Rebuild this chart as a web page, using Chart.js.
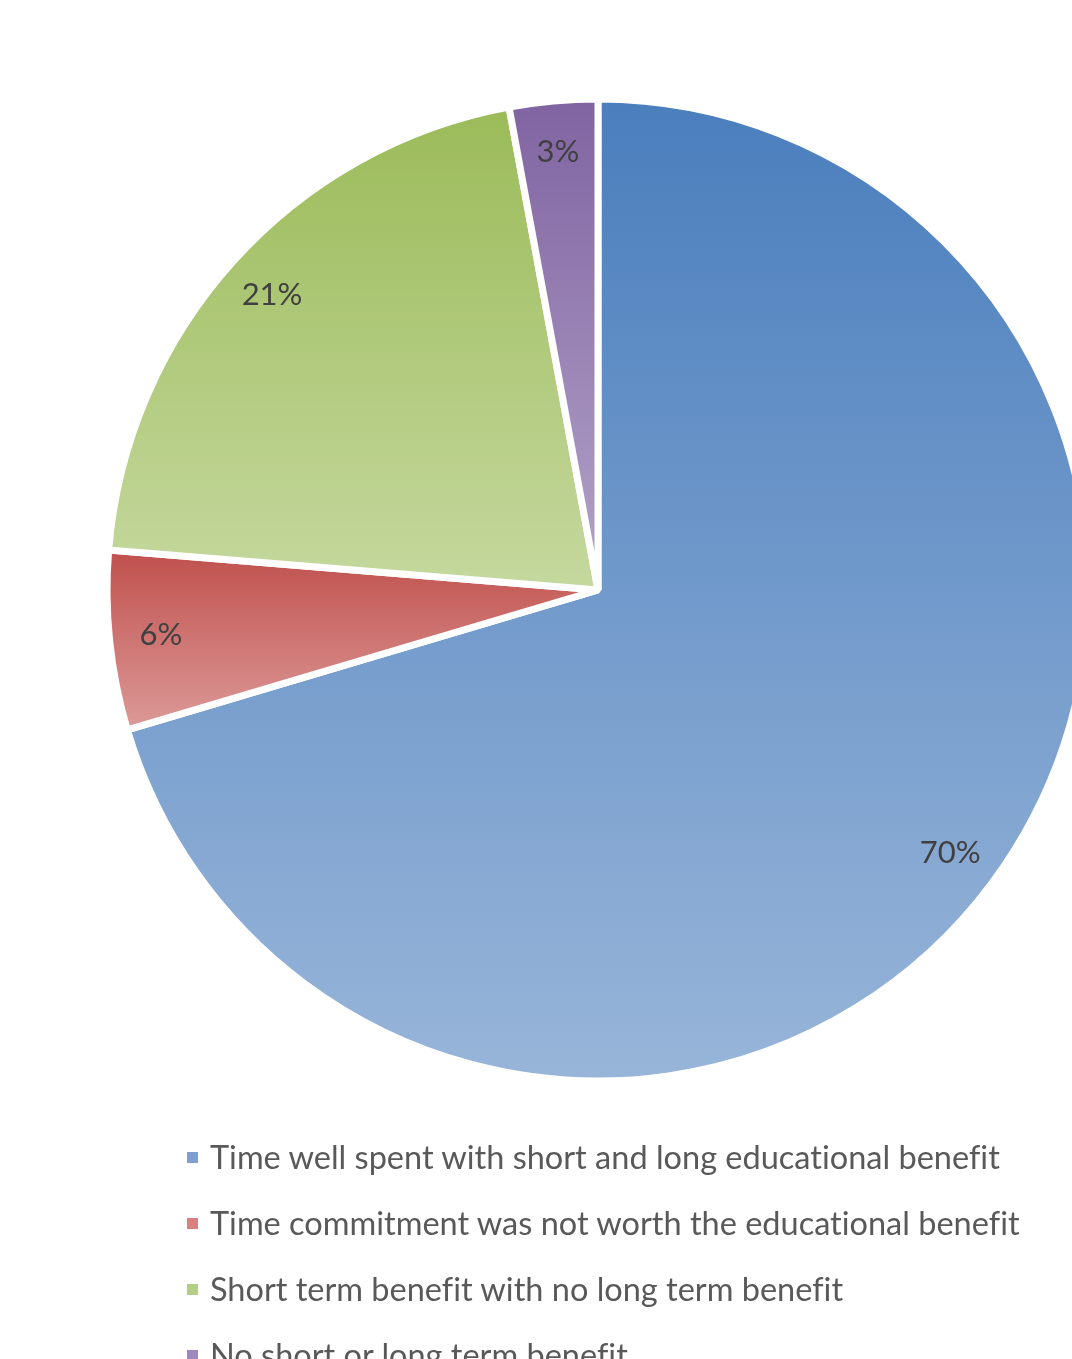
<!DOCTYPE html>
<html>
<head>
<meta charset="utf-8">
<script src="https://cdn.jsdelivr.net/npm/chart.js@4.4.1/dist/chart.umd.min.js"></script>
<style>
  html, body { margin: 0; padding: 0; background: #fff; overflow: hidden; }
  #wrap { position: absolute; left: 0; top: 0; width: 1072px; height: 1359px; }
  #legend { position: absolute; left: 187px; top: 1135px; font-family: Lato, "Open Sans", sans-serif; font-size: 32.5px; color: #595959; font-variant-ligatures: none; }
  .row { height: 66px; line-height: 44px; white-space: nowrap; position: relative; padding-left: 23px; }
  .box { position: absolute; left: 0; top: 17px; width: 11px; height: 11px; }
</style>
</head>
<body>
<div id="wrap"><canvas id="pie"></canvas></div>
<div id="legend"></div>
<script>
// ---- data ----
const labels = [
  "Time well spent with short and long educational benefit",
  "Time commitment was not worth the educational benefit",
  "Short term benefit with no long term benefit",
  "No short or long term benefit"
];
const values = [70.4, 5.9, 20.8, 2.9];

// slice colours: top of gradient, bottom of gradient, legend swatch
const topColors = ["#4a7ebd", "#c0504d", "#9bbb59", "#8064a2"];
const bottomColors = ["#98b5d9", "#dc9a98", "#c5d89e", "#b3a3c8"];
const swatchColors = ["#7da0d0", "#d9807e", "#b3ce85", "#9d89c0"];

const RADIUS = 491;
const total = values.reduce((a, b) => a + b, 0);

// vertical gradient over the bounding box of each slice
function sliceGradient(context) {
  const chart = context.chart;
  const i = context.dataIndex;
  const area = chart.chartArea;
  if (!area || i === undefined) return topColors[i || 0];
  const cx = (area.left + area.right) / 2;
  const cy = (area.top + area.bottom) / 2;
  let before = 0;
  for (let k = 0; k < i; k++) before += values[k];
  const a0 = -Math.PI / 2 + (before / total) * Math.PI * 2;
  const a1 = a0 + (values[i] / total) * Math.PI * 2;
  const ys = [cy, cy + RADIUS * Math.sin(a0), cy + RADIUS * Math.sin(a1)];
  for (let k = -1; k <= 2; k++) {
    const up = -Math.PI / 2 + 2 * Math.PI * k;
    const down = Math.PI / 2 + 2 * Math.PI * k;
    if (up >= a0 - 1e-6 && up <= a1 + 1e-6) ys.push(cy - RADIUS);
    if (down >= a0 - 1e-6 && down <= a1 + 1e-6) ys.push(cy + RADIUS);
  }
  const g = chart.ctx.createLinearGradient(0, Math.min(...ys), 0, Math.max(...ys));
  g.addColorStop(0, topColors[i]);
  g.addColorStop(1, bottomColors[i]);
  return g;
}

// percentage labels near the outer edge, like Excel's best fit
const pctLabels = {
  id: "pctLabels",
  afterDatasetsDraw(chart) {
    const c = chart.ctx;
    const meta = chart.getDatasetMeta(0);
    c.save();
    c.font = "31px Lato, 'Open Sans', sans-serif";
    c.fillStyle = "#404040";
    c.textAlign = "center";
    c.textBaseline = "middle";
    meta.data.forEach((arc, i) => {
      const p = arc.getProps(["x", "y", "startAngle", "endAngle", "outerRadius"], true);
      const mid = (p.startAngle + p.endAngle) / 2;
      const r = p.outerRadius * 0.895;
      c.fillText(Math.round(values[i] / total * 100) + "%", p.x + r * Math.cos(mid), p.y + r * Math.sin(mid));
    });
    c.restore();
  }
};

new Chart(document.getElementById("pie"), {
  type: "pie",
  data: {
    labels: labels,
    datasets: [{
      data: values,
      backgroundColor: sliceGradient,
      borderColor: "#ffffff",
      borderWidth: 7
    }]
  },
  options: {
    responsive: true,
    maintainAspectRatio: false,
    animation: false,
    radius: RADIUS,
    layout: { padding: { left: 124, right: 0, top: 0, bottom: 179 } },
    plugins: { legend: { display: false }, tooltip: { enabled: false } }
  },
  plugins: [pctLabels]
});

// legend
const legendEl = document.getElementById("legend");
labels.forEach((text, i) => {
  const row = document.createElement("div");
  row.className = "row";
  row.innerHTML = '<span class="box" style="background:' + swatchColors[i] + '"></span>' + text;
  legendEl.appendChild(row);
});
</script>
</body>
</html>
